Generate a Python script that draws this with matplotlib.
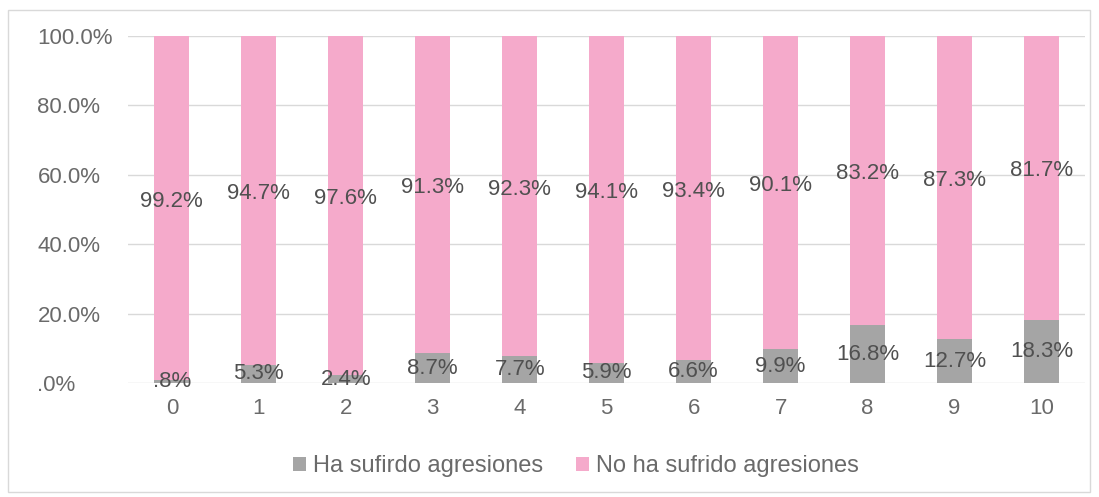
import numpy as np
import matplotlib.pyplot as plt
from matplotlib.patches import Rectangle

categories = ['0', '1', '2', '3', '4', '5', '6', '7', '8', '9', '10']
ha_sufrido = [0.8, 5.3, 2.4, 8.7, 7.7, 5.9, 6.6, 9.9, 16.8, 12.7, 18.3]
no_ha_sufrido = [99.2, 94.7, 97.6, 91.3, 92.3, 94.1, 93.4, 90.1, 83.2, 87.3, 81.7]
y_ticks = [0, 20, 40, 60, 80, 100]
y_tick_labels = ['.0%', '20.0%', '40.0%', '60.0%', '80.0%', '100.0%']

gray = '#A5A5A5'
pink = '#F5AACB'
text_col = '#6a6a6a'

plt.rcParams['font.family'] = ['Liberation Sans', 'DejaVu Sans']

fig = plt.figure(figsize=(10.99, 4.97), dpi=100)
ax = fig.add_axes([0.1168, 0.229, 0.8705, 0.6986])

x = np.arange(len(categories))
ha = np.array(ha_sufrido)
no = np.array(no_ha_sufrido)
ax.bar(x, ha, width=0.4, color=gray, label='Ha sufirdo agresiones', zorder=2)
ax.bar(x, no, width=0.4, bottom=ha, color=pink, label='No ha sufrido agresiones', zorder=2)

for i in range(len(categories)):
    ax.text(x[i], ha[i] / 2, f'{ha[i]:.1f}%'.lstrip('0'), ha='center', va='center',
            fontsize=16, color='#505050', zorder=3)
    ax.text(x[i], ha[i] + no[i] / 2 + 2, f'{no[i]:.1f}%', ha='center', va='center',
            fontsize=16, color='#505050', zorder=3)

ax.set_xlim(-0.5, len(categories) - 0.5)
ax.set_ylim(0, 100)
ax.set_yticks(y_ticks)
ax.set_yticklabels(y_tick_labels)
ax.set_xticks(x)
ax.set_xticklabels(categories)
ax.tick_params(length=0, labelsize=16, labelcolor=text_col)
ax.tick_params(axis='y', pad=65.5)
ax.tick_params(axis='x', pad=11)
for lbl in ax.get_yticklabels():
    lbl.set_horizontalalignment('left')
ax.grid(axis='y', color='#D9D9D9', linewidth=1, zorder=0)
for s in ax.spines.values():
    s.set_visible(False)

leg = fig.legend(loc='center', bbox_to_anchor=(0.524, 0.062), ncol=2, frameon=False,
                 fontsize=17, handlelength=0.55, handleheight=0.55, handletextpad=0.3,
                 columnspacing=1.4)
for t in leg.get_texts():
    t.set_color(text_col)

fig.patches.append(Rectangle((0.007, 0.01), 0.985, 0.97, transform=fig.transFigure,
                             fill=False, edgecolor='#D9D9D9', linewidth=1))

fig.savefig('out.png', dpi=100)
